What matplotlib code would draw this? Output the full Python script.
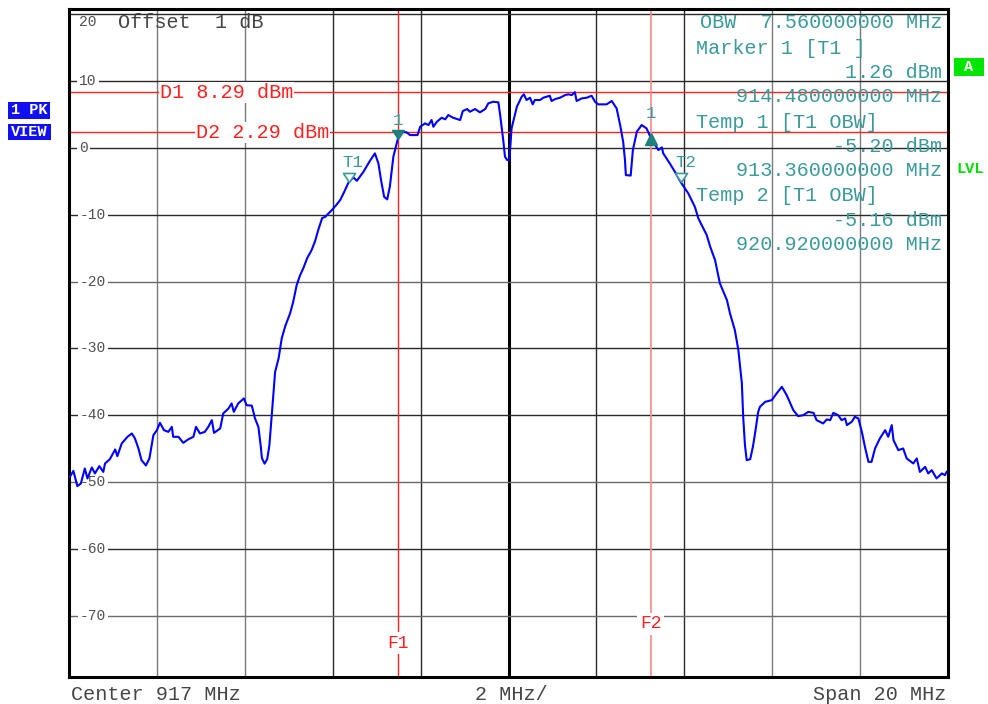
import matplotlib
matplotlib.use("Agg")
import matplotlib.pyplot as plt
from matplotlib.patches import Rectangle
from matplotlib.path import Path
from matplotlib.markers import MarkerStyle

# ---------------- data ----------------
freq_mhz = [
    907.02, 907.10, 907.19, 907.27, 907.36, 907.42, 907.52, 907.59, 907.69, 907.78,
    907.82, 907.93, 908.05, 908.10, 908.20, 908.33, 908.43, 908.50, 908.58, 908.65,
    908.75, 908.83, 908.92, 909.00, 909.07, 909.16, 909.26, 909.34, 909.37, 909.49,
    909.60, 909.71, 909.83, 909.89, 909.98, 910.09, 910.17, 910.25, 910.30, 910.44,
    910.51, 910.63, 910.70, 910.75, 910.85, 910.98, 911.04, 911.16, 911.23, 911.31,
    911.36, 911.39, 911.45, 911.51, 911.56, 911.61, 911.69, 911.77, 911.84, 911.92,
    912.03, 912.10, 912.18, 912.26, 912.33, 912.42, 912.52, 912.60, 912.67, 912.76,
    912.83, 912.98, 913.08, 913.17, 913.26, 913.36, 913.47, 913.55, 913.70, 913.83,
    913.96, 914.04, 914.10, 914.17, 914.24, 914.30, 914.38, 914.48, 914.53, 914.68,
    914.76, 914.93, 914.99, 915.10, 915.18, 915.25, 915.29, 915.37, 915.48, 915.56,
    915.63, 915.74, 915.90, 915.96, 916.06, 916.12, 916.24, 916.35, 916.47, 916.54,
    916.65, 916.77, 916.81, 916.88, 916.92, 916.97, 917.02, 917.07, 917.19, 917.30,
    917.35, 917.41, 917.49, 917.55, 917.60, 917.72, 917.79, 917.94, 917.98, 918.06,
    918.17, 918.29, 918.36, 918.44, 918.51, 918.55, 918.67, 918.78, 918.89, 918.97,
    919.04, 919.23, 919.35, 919.46, 919.54, 919.61, 919.65, 919.67, 919.78, 919.83,
    919.92, 920.03, 920.14, 920.23, 920.29, 920.41, 920.49, 920.52, 920.67, 920.79,
    920.92, 921.09, 921.24, 921.32, 921.51, 921.59, 921.70, 921.81, 921.97, 922.04,
    922.15, 922.23, 922.31, 922.34, 922.38, 922.42, 922.50, 922.56, 922.61, 922.68,
    922.72, 922.84, 922.99, 923.10, 923.22, 923.33, 923.48, 923.59, 923.71, 923.82,
    923.94, 924.01, 924.16, 924.24, 924.32, 924.39, 924.50, 924.58, 924.66, 924.70,
    924.81, 924.88, 924.96, 925.04, 925.11, 925.19, 925.26, 925.34, 925.45, 925.57,
    925.64, 925.72, 925.76, 925.87, 925.98, 926.06, 926.21, 926.29, 926.36, 926.48,
    926.55, 926.63, 926.74, 926.86, 926.93, 926.97,
]
level_dbm = [
    -49.19, -48.30, -50.58, -50.18, -47.94, -49.43, -47.79, -48.68, -47.59, -48.45,
    -47.19, -46.55, -45.10, -46.10, -44.20, -43.21, -42.71, -43.45, -44.95, -46.70,
    -47.49, -46.44, -42.96, -42.21, -41.12, -42.21, -42.47, -41.72, -43.21, -43.21,
    -44.11, -43.60, -43.21, -41.72, -42.71, -42.47, -41.72, -40.72, -42.62, -41.96,
    -39.72, -38.97, -38.22, -39.48, -38.22, -37.47, -38.48, -38.55, -40.42, -41.76,
    -44.45, -46.40, -47.22, -46.55, -44.45, -40.22, -33.50, -31.45, -28.51, -26.67,
    -24.77, -23.08, -20.54, -19.04, -18.04, -16.50, -15.31, -13.96, -12.32, -10.52,
    -10.33, -9.33, -8.58, -7.83, -6.64, -5.20, -4.44, -4.95, -3.60, -2.15,
    -0.85, -2.35, -4.84, -7.34, -7.73, -5.84, -1.36, 1.26, 2.38, 2.29,
    1.88, 1.88, 3.12, 3.63, 3.38, 4.13, 3.12, 3.87, 4.47, 4.23,
    4.87, 4.47, 4.13, 5.47, 5.77, 5.37, 5.77, 5.28, 5.77, 6.62,
    6.86, 6.77, 4.87, 1.14, -1.36, -1.85, -1.85, 2.88, 6.11, 7.61,
    7.97, 7.12, 7.46, 6.47, 7.12, 7.12, 7.46, 7.76, 6.97, 7.26,
    7.46, 7.86, 7.97, 7.86, 8.29, 6.97, 7.37, 7.46, 7.76, 6.86,
    6.47, 6.47, 6.97, 5.87, 3.38, 0.84, -1.85, -4.10, -4.17, -0.36,
    2.38, 3.38, 2.88, 1.58, 0.88, -0.36, 0.04, -0.85, -2.35, -3.65,
    -5.16, -6.83, -8.83, -10.57, -13.06, -14.81, -16.80, -20.28, -22.78, -24.77,
    -27.26, -30.25, -35.23, -40.22, -44.45, -46.70, -46.55, -44.71, -42.71, -39.52,
    -38.73, -37.98, -37.73, -36.73, -35.74, -36.98, -39.22, -40.12, -39.97, -39.48,
    -39.63, -40.72, -41.21, -40.61, -40.72, -39.63, -39.97, -40.72, -40.46, -41.46,
    -40.97, -40.22, -40.46, -42.47, -44.71, -46.95, -46.95, -44.95, -43.45, -42.21,
    -43.21, -41.46, -43.71, -45.20, -44.95, -46.44, -47.19, -46.44, -48.45, -47.70,
    -48.68, -48.19, -49.43, -48.68, -48.94, -48.45,
]

center_mhz = 917
span_mhz = 20
div_mhz = 2
grid_levels = [20, 10, 0, -10, -20, -30, -40, -50, -60, -70]
d1_dbm = 8.29
d2_dbm = 2.29
offset_db = 1
obw_mhz = 7.56
f1_mhz = 914.48
f2_mhz = 920.24
marker1_mhz, marker1_dbm = 914.48, 1.26
marker1b_mhz, marker1b_dbm = 920.24, 1.29
temp1_mhz, temp1_dbm = 913.36, -5.20
temp2_mhz, temp2_dbm = 920.92, -5.16

# ---------------- styling ----------------
W, H = 988, 704
MONO = ["Liberation Mono", "DejaVu Sans Mono"]
TEAL = "#3a9a9a"
DTEAL = "#1f7f7f"
RED = "#ff2020"
PINK = "#ff8888"
GRAY = "#454545"

fig = plt.figure(figsize=(W / 100, H / 100), dpi=100)
fig.patch.set_facecolor("white")

def fx(x):
    return x / W

def fy(y):
    return 1 - y / H

ax = fig.add_axes([fx(69), fy(677), fx(948) - fx(69), fy(9) - fy(677)])
fmin = center_mhz - span_mhz / 2
fmax = center_mhz + span_mhz / 2
ax.set_xlim(fmin, fmax)
ax.set_ylim(-79.1, 20.72)
ax.set_xticks([])
ax.set_yticks([])
for s in ax.spines.values():
    s.set_linewidth(2.2)
    s.set_color("black")

# grid
vlines = [fmin + k * div_mhz for k in range(1, int(span_mhz / div_mhz))]
for v in vlines:
    if abs(v - center_mhz) < 1e-6:
        ax.axvline(v, color="black", lw=2.2, zorder=1)
    else:
        c = "#7a7a7a" if abs(v - center_mhz) > 5 else "#2a2a2a"
        ax.axvline(v, color=c, lw=1.0, zorder=1)
for i, lv in enumerate(grid_levels):
    c = "#2a2a2a" if lv not in (-20, -50, -70) else "#6a6a6a"
    ax.axhline(lv, color=c, lw=1.0, zorder=1)

# display lines
ax.axhline(d1_dbm, color=RED, lw=1.0, zorder=2)
ax.axhline(d2_dbm, color=RED, lw=1.0, zorder=2)
ax.axvline(f1_mhz, color=RED, lw=1.0, zorder=2)
ax.axvline(f2_mhz, color=PINK, lw=1.2, zorder=2)

# trace
ax.plot(freq_mhz, level_dbm, color="#0000ff", lw=1.5, zorder=5)

# markers (tip at the data point, body above)
tri_down = MarkerStyle(Path([(0, 0), (-6, 9), (6, 9), (0, 0)], [Path.MOVETO, Path.LINETO, Path.LINETO, Path.CLOSEPOLY]))
ax.plot([temp1_mhz, temp2_mhz], [temp1_dbm, temp2_dbm], linestyle="none",
        marker=tri_down, markersize=13, markerfacecolor="white",
        markeredgecolor=TEAL, markeredgewidth=1.2, zorder=6)
ax.plot([marker1_mhz], [marker1_dbm], linestyle="none", marker=tri_down,
        markersize=13, markerfacecolor=DTEAL, markeredgecolor=DTEAL, zorder=6)
ax.plot([marker1b_mhz], [marker1b_dbm], linestyle="none", marker="^",
        markersize=8, markerfacecolor=DTEAL, markeredgecolor=DTEAL, zorder=6)

def lab(txt, x, y, dx, dy, ha="left"):
    ax.annotate(txt, (x, y), xytext=(dx, dy), textcoords="offset pixels",
                ha=ha, va="center", color=TEAL, fontsize=12.5, family=MONO, zorder=7)

lab("T1", temp1_mhz, temp1_dbm, -6, 20)
lab("T2", temp2_mhz, temp2_dbm, -5, 20)
lab("1", marker1_mhz, marker1_dbm, 0, 19, ha="center")
lab("1", marker1b_mhz, marker1b_dbm, 0, 26, ha="center")

# y level labels
for lv in grid_levels:
    if lv == 20:
        continue
    ax.annotate(f"{lv}", (0, lv), xycoords=("axes fraction", "data"),
                xytext=(10 if lv >= 0 else 11, 0), textcoords="offset pixels",
                ha="left", va="center", fontsize=10.5, family=MONO, color="#505050",
                bbox=dict(boxstyle="square,pad=0.15", fc="white", ec="none"), zorder=3)
ax.annotate(f"{grid_levels[0]}", (0, 1), xycoords="axes fraction", xytext=(10, -13),
            textcoords="offset pixels", ha="left", va="center", fontsize=10.5,
            family=MONO, color="#505050")
ax.annotate(f"Offset  {offset_db} dB", (0, 1), xycoords="axes fraction", xytext=(49, -13),
            textcoords="offset pixels", ha="left", va="center", fontsize=14.5,
            family=MONO, color=GRAY)

# display line labels
for txt, lvl, xp in [(f"D1 {d1_dbm:.2f} dBm", d1_dbm, 160), (f"D2 {d2_dbm:.2f} dBm", d2_dbm, 196)]:
    ax.annotate(txt, (0, lvl), xycoords=("axes fraction", "data"), xytext=(xp - 69, 0),
                textcoords="offset pixels", ha="left", va="center", fontsize=14.5,
                family=MONO, color=RED,
                bbox=dict(boxstyle="square,pad=0.05", fc="white", ec="none"), zorder=4)
ax.annotate("F1", (f1_mhz, 0), xycoords=("data", "axes fraction"), xytext=(0, 677 - 643),
            textcoords="offset pixels", ha="center", va="center", fontsize=13,
            family=MONO, color=RED,
            bbox=dict(boxstyle="square,pad=0.15", fc="white", ec="none"), zorder=4)
ax.annotate("F2", (f2_mhz, 0), xycoords=("data", "axes fraction"), xytext=(0, 677 - 624),
            textcoords="offset pixels", ha="center", va="center", fontsize=13,
            family=MONO, color=RED,
            bbox=dict(boxstyle="square,pad=0.15", fc="white", ec="none"), zorder=4)

# right info block
rows = [
    (f"OBW  {obw_mhz:.9f} MHz", "right", 23),
    ("Marker 1 [T1 ]", "left", 48),
    (f"{marker1_dbm:.2f} dBm", "right", 73),
    (f"{marker1_mhz:.9f} MHz", "right", 97),
    ("Temp 1 [T1 OBW]", "left", 122),
    (f"{temp1_dbm:.2f} dBm", "right", 146),
    (f"{temp1_mhz:.9f} MHz", "right", 171),
    ("Temp 2 [T1 OBW]", "left", 196),
    (f"{temp2_dbm:.2f} dBm", "right", 220),
    (f"{temp2_mhz:.9f} MHz", "right", 245),
]
for txt, ha, yp in rows:
    xp = 942 if ha == "right" else 696
    fig.text(fx(xp), fy(yp), txt, ha=ha, va="center", fontsize=14.5, family=MONO,
             color=TEAL, zorder=8)

# bottom labels
fig.text(fx(71), fy(694), f"Center {center_mhz} MHz", ha="left", va="center",
         fontsize=14.5, family=MONO, color=GRAY)
fig.text(fx(511), fy(694), f"{div_mhz} MHz/", ha="center", va="center",
         fontsize=14.5, family=MONO, color=GRAY)
fig.text(fx(946), fy(694), f"Span {span_mhz} MHz", ha="right", va="center",
         fontsize=14.5, family=MONO, color=GRAY)

# side badges
def badge(x0, y0, x1, y1, color, txt):
    fig.add_artist(Rectangle((fx(x0), fy(y1)), fx(x1) - fx(x0), fy(y0) - fy(y1),
                             transform=fig.transFigure, facecolor=color, edgecolor="none"))
    fig.text(fx((x0 + x1) / 2), fy((y0 + y1) / 2), txt, ha="center", va="center",
             fontsize=11, family=MONO, weight="bold", color="white")

badge(8, 102, 50, 119, "#1010f0", "1 PK")
badge(8, 124, 51, 140, "#1010f0", "VIEW")
badge(954, 58, 984, 76, "#00e600", "A")
fig.text(fx(970), fy(169), "LVL", ha="center", va="center", fontsize=11,
         family=MONO, weight="bold", color="#00dd00")

fig.savefig("out.png", dpi=100, facecolor="white")
